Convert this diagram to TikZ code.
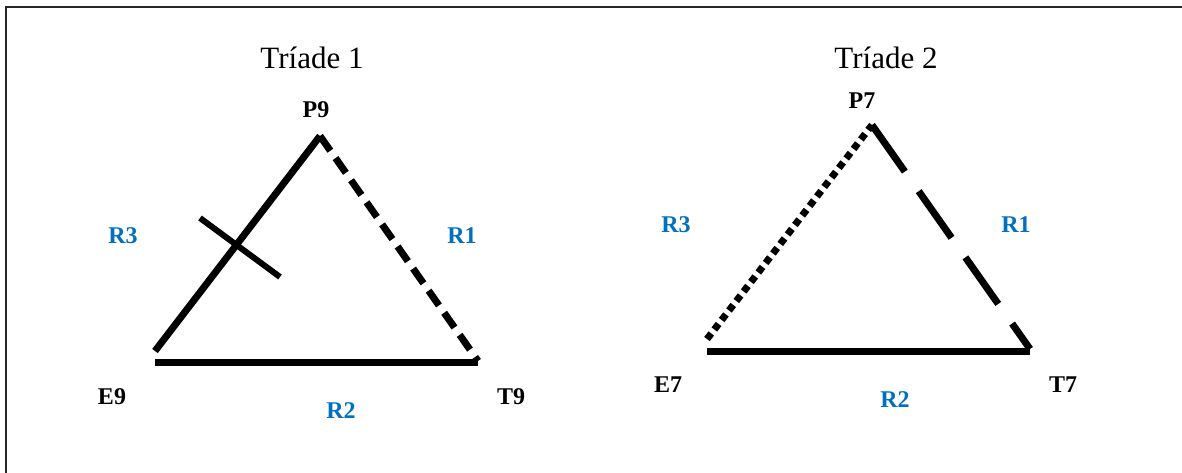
\documentclass[tikz,border=0pt]{standalone}
\usepackage{fontspec}
\setmainfont{Liberation Serif}
\definecolor{rblue}{HTML}{0070C0}
\begin{document}
\begin{tikzpicture}[x=1pt,y=-1pt,
  side/.style={line width=7pt,line cap=butt},
  shortdash/.style={side,dash pattern=on 18pt off 9pt},
  longdash/.style={side,dash pattern=on 57pt off 24pt},
  dotline/.style={side,dash pattern=on 7pt off 5pt},
  vlabel/.style={font=\fontsize{24}{28}\selectfont\bfseries,inner sep=0pt},
  rlabel/.style={vlabel,text=rblue},
  title/.style={font=\fontsize{31}{36}\selectfont,inner sep=0pt}]
\useasboundingbox (0,0) rectangle (1182,473);
\draw[line width=2pt,black!85] (6,473) -- (6,7) -- (1182,7);
% Triad 1
\node[title] (t1) at (312,58) {Tríade 1};
\coordinate (P9) at (320,136);
\coordinate (E9a) at (155,351);
\coordinate (E9b) at (155,362);
\coordinate (T9a) at (478,362);
\coordinate (T9b) at (478,361);
\coordinate (c1) at (200,218);
\coordinate (c2) at (280,277);
\draw[side] (E9a) -- (P9);
\draw[shortdash] (P9) -- (T9b);
\draw[side] (E9b) -- (T9a);
\draw[line width=6pt] (c1) -- (c2);
\node[vlabel] (p9) at (316,110) {P9};
\node[vlabel] (e9) at (112,397) {E9};
\node[vlabel] (t9) at (511,397) {T9};
\node[rlabel] (r3a) at (123,236) {R3};
\node[rlabel] (r1a) at (462,236) {R1};
\node[rlabel] (r2a) at (341,411) {R2};
% Triad 2
\node[title] (t2) at (886,58) {Tríade 2};
\coordinate (P7) at (872,125);
\coordinate (E7a) at (707,339);
\coordinate (E7b) at (707,351);
\coordinate (T7a) at (1030,351);
\coordinate (T7b) at (1030,349);
\draw[dotline] (E7a) -- (P7);
\draw[longdash] (P7) -- (T7b);
\draw[side] (E7b) -- (T7a);
\node[vlabel] (p7) at (862,101) {P7};
\node[vlabel] (e7) at (668,385) {E7};
\node[vlabel] (t7) at (1063,385) {T7};
\node[rlabel] (r3b) at (676,225) {R3};
\node[rlabel] (r1b) at (1016,225) {R1};
\node[rlabel] (r2b) at (895,400) {R2};
\end{tikzpicture}
\end{document}
